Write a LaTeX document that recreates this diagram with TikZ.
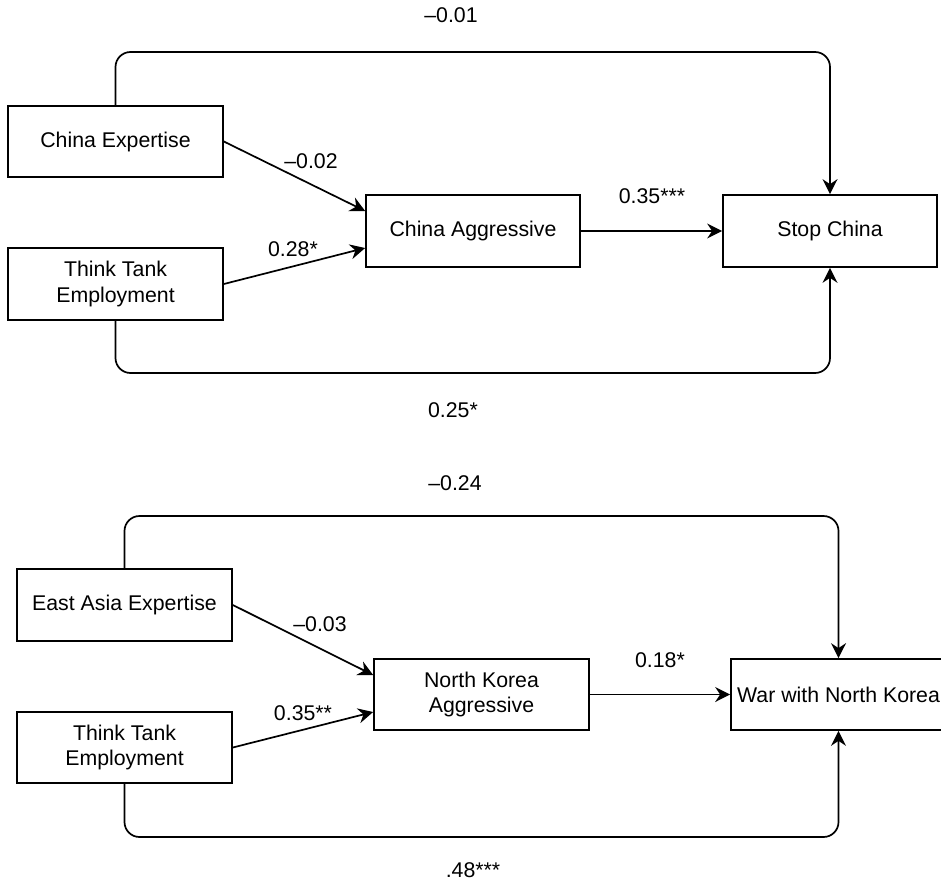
\documentclass[tikz,border=0pt]{standalone}
\usepackage{fontspec}
\setmainfont{Liberation Sans}
\usetikzlibrary{arrows.meta}
\begin{document}
\begin{tikzpicture}[x=1pt,y=-1pt,
  box/.style={draw, line width=1.7pt, inner sep=0pt, align=center,
    font=\fontsize{21.3}{25.5}\selectfont},
  lbl/.style={inner sep=0pt, font=\fontsize{21.3}{25.5}\selectfont},
  conn/.style={line width=1.7pt, -{Stealth[length=15pt,width=15pt,inset=5pt]}},
  loop/.style={conn, rounded corners=15pt}]
\useasboundingbox[fill=white] (0,0) rectangle (941,883);
% ---------- top diagram ----------
\node[box, minimum width=215pt, minimum height=71pt] (ce) at (115.5,141.5) {China Expertise};
\node[box, minimum width=215pt, minimum height=72pt] (tt1) at (115.5,284) {Think Tank\\Employment};
\node[box, minimum width=214pt, minimum height=72pt] (ca) at (473,231) {China Aggressive};
\node[box, minimum width=214pt, minimum height=72pt] (sc) at (830,231) {Stop China};
\coordinate (t1a) at (115.5,52);
\coordinate (t1b) at (830,52);
\coordinate (b1a) at (115.5,373);
\coordinate (b1b) at (830,373);
\draw[loop] (ce.north) -- (t1a) -- (t1b) -- (sc.north);
\draw[loop] (tt1.south) -- (b1a) -- (b1b) -- (sc.south);
\draw[conn] (ce.east) -- ([yshift=20pt]ca.west);
\draw[conn] (tt1.east) -- ([yshift=-17pt]ca.west);
\draw[conn] (ca.east) -- (sc.west);
\node[lbl] (l1) at (451,15) {–0.01};
\node[lbl] (l2) at (453,410) {0.25*};
\node[lbl] (l3) at (311,161) {–0.02};
\node[lbl] (l4) at (293,249) {0.28*};
\node[lbl] (l5) at (652,196) {0.35***};
% ---------- bottom diagram ----------
\node[box, minimum width=215pt, minimum height=72pt] (ea) at (124.5,605) {East Asia Expertise};
\node[box, minimum width=215pt, minimum height=71pt] (tt2) at (124.5,747.5) {Think Tank\\Employment};
\node[box, minimum width=215pt, minimum height=71pt] (nk) at (481.5,694.5) {North Korea\\Aggressive};
\node[box, minimum width=225pt, minimum height=71pt] (war) at (843.5,694.5) {\hspace*{-10pt}War with North Korea};
\coordinate (t2a) at (124.5,516);
\coordinate (t2b) at (838.5,516);
\coordinate (b2a) at (124.5,837);
\coordinate (b2b) at (838.5,837);
\draw[loop] (ea.north) -- (t2a) -- (t2b) -- ([xshift=-5pt]war.north);
\draw[loop] (tt2.south) -- (b2a) -- (b2b) -- ([xshift=-5pt]war.south);
\draw[conn] (ea.east) -- ([yshift=19.5pt]nk.west);
\draw[conn] (tt2.east) -- ([yshift=-17.5pt]nk.west);
\draw[conn] (nk.east) -- (war.west);
\node[lbl] (m1) at (455,483) {–0.24};
\node[lbl] (m2) at (320,624) {–0.03};
\node[lbl] (m3) at (303,713) {0.35**};
\node[lbl] (m4) at (660,660) {0.18*};
\node[lbl] (m5) at (473,870) {.48***};
\end{tikzpicture}
\end{document}
